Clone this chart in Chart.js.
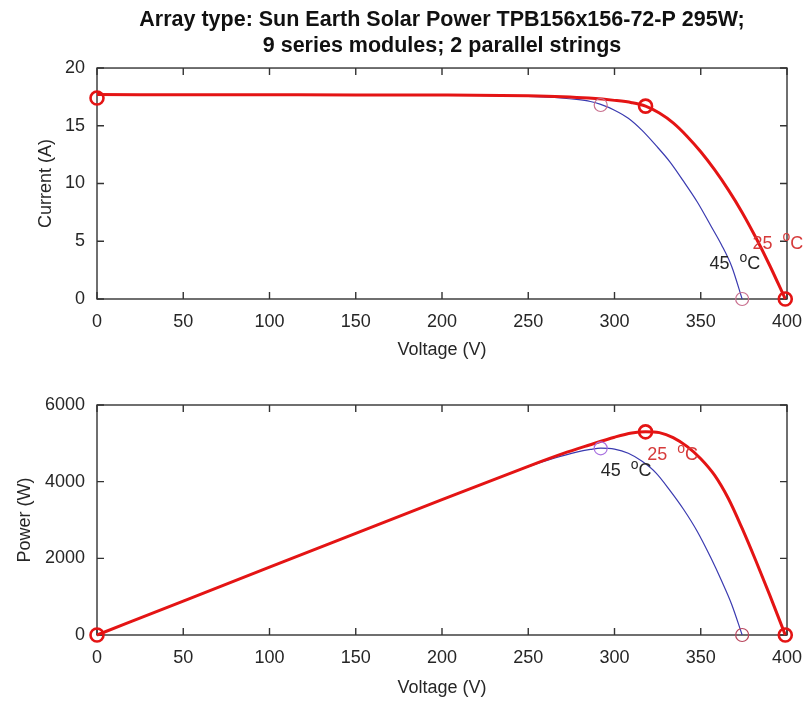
<!DOCTYPE html>
<html>
<head>
<meta charset="utf-8">
<script src="https://cdn.jsdelivr.net/npm/chart.js@4/dist/chart.umd.min.js"></script>
<style>
  body { margin: 0; background: #fff; }
  #wrap { position: relative; width: 808px; height: 702px; }
  #ivChart { position: absolute; left: 0; top: 0; }
  #pvChart { position: absolute; left: 0; top: 380px; }
</style>
</head>
<body>
<div id="wrap">
  <canvas id="ivChart" width="808" height="380"></canvas>
  <canvas id="pvChart" width="808" height="322"></canvas>
</div>
<script>
// ---- data ----
const titleLines = [
  "Array type: Sun Earth Solar Power TPB156x156-72-P 295W;",
  "9 series modules; 2 parallel strings"
];
const voltTicks = [0, 50, 100, 150, 200, 250, 300, 350, 400];

// 25 degC curve
const volt25 = [0, 50, 100, 150, 200, 250, 270, 285, 300, 310, 318, 326, 334, 342, 350, 358, 366, 374, 382, 390, 399];
const curr25 = [17.7, 17.69, 17.68, 17.67, 17.66, 17.6, 17.52, 17.4, 17.2, 17.0, 16.7, 16.1, 15.25, 14.1, 12.75, 11.2, 9.45, 7.5, 5.3, 2.9, 0];
const power25 = [0, 885, 1768, 2650, 3532, 4400, 4730, 4950, 5160, 5270, 5305, 5280, 5150, 4920, 4600, 4170, 3560, 2780, 1930, 1040, 0];

// 45 degC curve
const volt45 = [0, 50, 100, 150, 200, 250, 265, 278, 286, 292, 300, 308, 316, 324, 332, 340, 348, 356, 362, 368, 374];
const curr45 = [17.7, 17.69, 17.68, 17.67, 17.65, 17.55, 17.45, 17.28, 17.1, 16.85, 16.35, 15.65, 14.6, 13.3, 11.9, 10.2, 8.4, 6.3, 4.7, 2.8, 0];
const power45 = [0, 885, 1768, 2650, 3530, 4388, 4611, 4770, 4840, 4875, 4850, 4740, 4530, 4230, 3780, 3280, 2700, 2000, 1420, 790, 0];

// marked points (Isc, MPP, Voc)
const ivMarks25 = [[0, 17.4], [318, 16.7], [399, 0]];
const ivMarks45 = [[292, 16.8], [374, 0]];
const pvMarks25 = [[0, 0], [318, 5300], [399, 0]];
const pvMpp45 = [[292, 4870]];
const pvVoc45 = [[374, 0]];

// temperature labels [volt, value, text, colour]
const ivLabels = [[380, 4.8, "25", "red"], [355, 3.0, "45", "black"]];
const pvLabels = [[319, 4700, "25", "red"], [292, 4270, "45", "black"]];

const axisColor = "#333333";
const textColor = "#262626";
const fontFamily = '"Liberation Sans", Arial, Helvetica, sans-serif';
Chart.defaults.font.family = fontFamily;
Chart.defaults.color = textColor;

const toXY = (xs, ys) => xs.map((x, i) => ({ x: x, y: ys[i] }));
const pairs = (list) => list.map(p => ({ x: p[0], y: p[1] }));

// MATLAB-like box with inward ticks on all four sides
const boxPlugin = {
  id: "matlabBox",
  beforeDatasetsDraw(chart) {
    const { ctx, chartArea: a, scales } = chart;
    const len = 7;
    ctx.save();
    ctx.strokeStyle = axisColor;
    ctx.lineWidth = 1.4;
    ctx.strokeRect(a.left, a.top, a.width, a.height);
    ctx.beginPath();
    scales.x.ticks.forEach(t => {
      const px = scales.x.getPixelForValue(t.value);
      ctx.moveTo(px, a.bottom); ctx.lineTo(px, a.bottom - len);
      ctx.moveTo(px, a.top); ctx.lineTo(px, a.top + len);
    });
    scales.y.ticks.forEach(t => {
      const py = scales.y.getPixelForValue(t.value);
      ctx.moveTo(a.left, py); ctx.lineTo(a.left + len, py);
      ctx.moveTo(a.right, py); ctx.lineTo(a.right - len, py);
    });
    ctx.stroke();
    ctx.restore();
  }
};

// "25 oC" style labels with superscript o
const tempLabelPlugin = {
  id: "tempLabels",
  afterDatasetsDraw(chart, args, opts) {
    const { ctx, scales } = chart;
    ctx.save();
    ctx.textAlign = "left";
    ctx.textBaseline = "middle";
    (opts.items || []).forEach(item => {
      const x = scales.x.getPixelForValue(item[0]);
      const y = scales.y.getPixelForValue(item[1]);
      ctx.fillStyle = item[3] === "red" ? "#d63b3b" : textColor;
      ctx.font = "18px " + fontFamily;
      ctx.fillText(item[2], x, y);
      let w = ctx.measureText(item[2] + "  ").width;
      ctx.font = "14px " + fontFamily;
      ctx.fillText("o", x + w, y - 6);
      w += ctx.measureText("o").width;
      ctx.font = "18px " + fontFamily;
      ctx.fillText("C", x + w, y);
    });
    ctx.restore();
  }
};

function lineSet(data, color, width, order) {
  return {
    data: data, borderColor: color, borderWidth: width, pointRadius: 0,
    cubicInterpolationMode: "monotone", fill: false, order: order, clip: false
  };
}
function markSet(data, color, width, order) {
  return {
    data: data, showLine: false, pointRadius: 6.5, pointBorderWidth: width,
    pointBorderColor: color, pointBackgroundColor: "rgba(0,0,0,0)",
    pointHoverRadius: 6.5, order: order, clip: false
  };
}

function xScale(heightPx, titlePad) {
  return {
    type: "linear", min: 0, max: 400,
    afterBuildTicks: s => { s.ticks = voltTicks.map(v => ({ value: v })); },
    afterFit: s => { s.height = heightPx; s.paddingLeft = 0; s.paddingRight = 0; },
    grid: { display: false, drawTicks: false },
    border: { display: false },
    ticks: { font: { size: 18 }, color: textColor, padding: 12, maxRotation: 0 },
    title: { display: true, text: "Voltage (V)", font: { size: 18 }, color: textColor, padding: { top: 0, bottom: titlePad } }
  };
}
function yScale(max, step, label, titlePad) {
  return {
    type: "linear", min: 0, max: max,
    afterFit: s => { s.width = 97; },
    grid: { display: false, drawTicks: false },
    border: { display: false },
    ticks: { stepSize: step, font: { size: 18 }, color: textColor, padding: 12, callback: v => String(v) },
    title: { display: true, text: label, font: { size: 18 }, color: textColor, padding: { top: titlePad, bottom: 0 } }
  };
}

new Chart(document.getElementById("ivChart"), {
  type: "line",
  data: {
    datasets: [
      lineSet(toXY(volt45, curr45), "#3a3ab0", 1.2, 3),
      lineSet(toXY(volt25, curr25), "#e41414", 3, 2),
      markSet(pairs(ivMarks45), "#c9708f", 1.2, 1),
      markSet(pairs(ivMarks25), "#e41414", 2.6, 0)
    ]
  },
  options: {
    responsive: false,
    animation: false,
    layout: { padding: { left: 0, right: 21, top: 0, bottom: 0 } },
    scales: {
      x: xScale(81, 19.2),
      y: yScale(20, 5, "Current (A)", 35.7)
    },
    plugins: {
      legend: { display: false },
      tooltip: { enabled: false },
      title: {
        display: true, text: titleLines, fullSize: false, color: "#111",
        font: { size: 21.5, weight: "bold", lineHeight: 1.21 },
        padding: { top: 7, bottom: 9 }
      },
      tempLabels: { items: ivLabels }
    }
  },
  plugins: [boxPlugin, tempLabelPlugin]
});

new Chart(document.getElementById("pvChart"), {
  type: "line",
  data: {
    datasets: [
      lineSet(toXY(volt45, power45), "#3a3ab0", 1.2, 3),
      lineSet(toXY(volt25, power25), "#e41414", 3, 2),
      markSet(pairs(pvMpp45), "#a870e0", 1.2, 1),
      markSet(pairs(pvVoc45), "#b8455c", 1.2, 1),
      markSet(pairs(pvMarks25), "#e41414", 2.6, 0)
    ]
  },
  options: {
    responsive: false,
    animation: false,
    layout: { padding: { left: 0, right: 21, top: 25, bottom: 0 } },
    scales: {
      x: xScale(67, 3.2),
      y: yScale(6000, 2000, "Power (W)", 14.2)
    },
    plugins: {
      legend: { display: false },
      tooltip: { enabled: false },
      tempLabels: { items: pvLabels }
    }
  },
  plugins: [boxPlugin, tempLabelPlugin]
});
</script>
</body>
</html>
